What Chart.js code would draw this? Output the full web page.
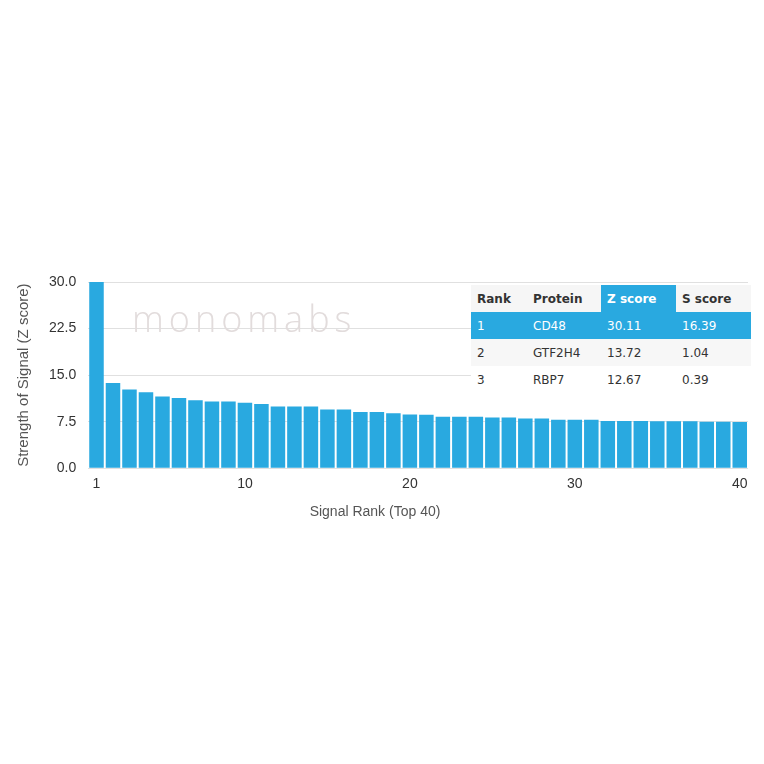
<!DOCTYPE html>
<html>
<head>
<meta charset="utf-8">
<script src="https://cdn.jsdelivr.net/npm/chart.js@4.4.0/dist/chart.umd.min.js"></script>
<style>
  body { margin: 0; background: #fff; }
  #wrap { position: relative; width: 764px; height: 764px; }
  #chart { position: absolute; left: 0; top: 0; }
  #xtitle { position: absolute; left: 275px; width: 200px; top: 503px; text-align: center;
            font-family: "Liberation Sans", Arial, sans-serif; font-size: 14px; color: #555; }
  #mark { position: absolute; left: 132px; top: 294px; font-family: "Open Sans", "DejaVu Sans", sans-serif;
          font-weight: 300; font-size: 36px; letter-spacing: 5px; color: #e2dcdc; }
  #tbl { position: absolute; left: 471px; top: 285px; border-collapse: collapse;
         font-family: "DejaVu Sans", sans-serif; font-size: 12px; color: #333; background: #fff; }
  #tbl th, #tbl td { text-align: left; padding: 0 6px; height: 27px; }
  #tbl th { background: #f6f6f6; font-weight: bold; }
  #tbl th.hl { background: #29a9e0; color: #fff; }
  #tbl tr.hl td { background: #29a9e0; color: #fff; }
  #tbl tr.gr td { background: #f7f7f7; }
</style>
</head>
<body>
<div id="wrap">
  <canvas id="chart" width="764" height="764"></canvas>
  <div id="mark">monomabs</div>
  <div id="xtitle">Signal Rank (Top 40)</div>
  <table id="tbl"></table>
</div>
<script>
// top 40 signal ranks
var ranks = [1, 2, 3, 4, 5, 6, 7, 8, 9, 10, 11, 12, 13, 14, 15, 16, 17, 18, 19, 20,
             21, 22, 23, 24, 25, 26, 27, 28, 29, 30, 31, 32, 33, 34, 35, 36, 37, 38, 39, 40];
var zScores = [30.11, 13.72, 12.67, 12.25, 11.55, 11.3, 10.95, 10.75, 10.75, 10.55,
               10.35, 9.95, 9.95, 9.95, 9.45, 9.45, 9.05, 9.05, 8.85, 8.65,
               8.6, 8.3, 8.3, 8.3, 8.15, 8.15, 8.0, 8.0, 7.8, 7.8,
               7.8, 7.6, 7.6, 7.6, 7.55, 7.55, 7.55, 7.5, 7.5, 7.45];
var xTickLabels = [1, 10, 20, 30, 40];
var yTicks = [0, 7.5, 15, 22.5, 30];

// table top 3
var tblRank = [1, 2, 3];
var tblProtein = ["CD48", "GTF2H4", "RBP7"];
var tblZ = ["30.11", "13.72", "12.67"];
var tblS = ["16.39", "1.04", "0.39"];

var html = '<tr><th style="width:44px">Rank</th><th style="width:62px">Protein</th>' +
           '<th class="hl" style="width:63px">Z score</th><th style="width:63px">S score</th></tr>';
for (var i = 0; i < tblRank.length; i++) {
    var cls = i == 0 ? 'hl' : (i == 1 ? 'gr' : '');
    html += '<tr class="' + cls + '"><td>' + tblRank[i] + '</td><td>' + tblProtein[i] + '</td><td>' +
            tblZ[i] + '</td><td>' + tblS[i] + '</td></tr>';
}
document.getElementById('tbl').innerHTML = html;

var ctx = document.getElementById('chart').getContext('2d');
var myChart = new Chart(ctx, {
    type: 'bar',
    data: {
        labels: ranks,
        datasets: [{
            label: 'Z score',
            data: zScores,
            backgroundColor: '#29a9e0',
            barPercentage: 0.88,
            categoryPercentage: 1.0
        }]
    },
    options: {
        responsive: false,
        animation: false,
        layout: { padding: { top: 282, left: 11, right: 16, bottom: 263 } },
        plugins: { legend: { display: false }, tooltip: { enabled: false } },
        scales: {
            x: {
                grid: { display: false, drawTicks: false },
                border: { display: false },
                ticks: {
                    autoSkip: false, maxRotation: 0, padding: 8,
                    color: '#333', font: { family: 'Liberation Sans', size: 14 },
                    callback: function (v, i) {
                        var l = ranks[i];
                        return xTickLabels.indexOf(l) >= 0 ? String(l) : '';
                    }
                }
            },
            y: {
                min: 0, max: 30,
                afterBuildTicks: function (axis) {
                    axis.ticks = yTicks.map(function (v) { return { value: v }; });
                },
                grid: { color: '#e0e0e0', drawTicks: false },
                border: { display: false },
                ticks: {
                    padding: 12, color: '#333', font: { family: 'Liberation Sans', size: 14 },
                    callback: function (v) { return v.toFixed(1); }
                },
                title: {
                    display: true, text: 'Strength of Signal (Z score)',
                    color: '#555', font: { family: 'Liberation Sans', size: 15 }, padding: 4
                }
            }
        }
    }
});
</script>
</body>
</html>
